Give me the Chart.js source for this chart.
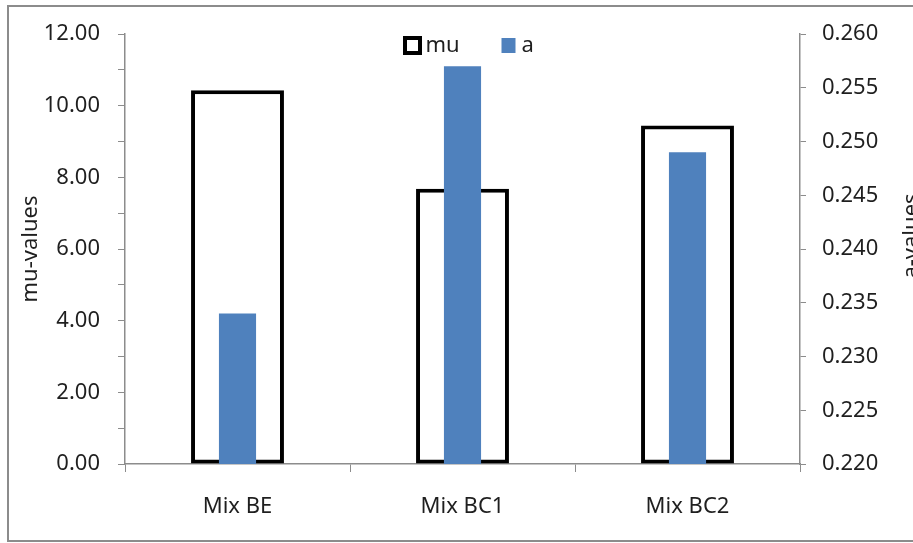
<!DOCTYPE html>
<html>
<head>
<meta charset="utf-8">
<script src="https://cdn.jsdelivr.net/npm/chart.js@4.4.0/dist/chart.umd.min.js"></script>
<style>
    html, body { margin: 0; padding: 0; background: #fff; }
    #wrap { position: absolute; left: 0; top: 0; width: 913px; height: 543px; }
</style>
</head>
<body>
<div id="wrap"><canvas id="myChart" width="913" height="543"></canvas></div>
<script>
// mix names and the two measured parameters
var mixes = ['Mix BE', 'Mix BC1', 'Mix BC2'];
var muValues = [10.43, 7.68, 9.45];
var aValues = [0.234, 0.257, 0.249];

var muTicks = [0, 2, 4, 6, 8, 10, 12];
var aTicks = [0.220, 0.225, 0.230, 0.235, 0.240, 0.245, 0.250, 0.255, 0.260];

var textColor = '#1f1f1f';
var axisColor = '#8c8c8c';
var fontFamily = '"Noto Sans", "Open Sans", sans-serif';

// frame round the whole chart, plus the legend and right-hand title
var framePlugin = {
    id: 'frame',
    beforeDraw: function (chart) {
        var ctx = chart.ctx;
        ctx.save();
        ctx.fillStyle = '#fff';
        ctx.fillRect(0, 0, chart.width, chart.height);
        ctx.strokeStyle = '#8c8c8c';
        ctx.lineWidth = 2;
        ctx.strokeRect(8, 6, chart.width, chart.height - 8);
        ctx.restore();
    },
    afterDraw: function (chart) {
        var ctx = chart.ctx;
        var area = chart.chartArea;
        var cx = (area.left + area.right) / 2;
        ctx.save();
        ctx.font = '22px ' + fontFamily;
        ctx.textBaseline = 'middle';
        ctx.fillStyle = textColor;

        // legend: mu (outlined box) then a (filled box)
        var ly = 46;
        var muDs = chart.data.datasets[1];
        var aDs = chart.data.datasets[0];
        ctx.strokeStyle = muDs.borderColor;
        ctx.lineWidth = 4;
        ctx.strokeRect(cx - 57.5, ly - 8, 15, 15);
        ctx.fillText(muDs.label, cx - 37, ly);
        ctx.fillStyle = aDs.backgroundColor;
        ctx.fillRect(cx + 39, ly - 8, 14, 15);
        ctx.fillStyle = textColor;
        ctx.fillText(aDs.label, cx + 59, ly);

        // right axis title reads bottom to top
        ctx.translate(chart.width - 1, 236);
        ctx.rotate(-Math.PI / 2);
        ctx.textAlign = 'center';
        ctx.textBaseline = 'alphabetic';
        ctx.fillText('a-values', 0, 6);
        ctx.restore();
    }
};

var ctx = document.getElementById('myChart').getContext('2d');
var chart = new Chart(ctx, {
    type: 'bar',
    data: {
        labels: mixes,
        datasets: [{
            label: 'a',
            data: aValues,
            yAxisID: 'y1',
            backgroundColor: '#4f81bd',
            borderWidth: 0,
            grouped: false,
            categoryPercentage: 1,
            barPercentage: 0.165
        }, {
            label: 'mu',
            data: muValues,
            yAxisID: 'y',
            backgroundColor: '#ffffff',
            borderColor: '#000000',
            borderWidth: 4,
            borderSkipped: false,
            grouped: false,
            categoryPercentage: 1,
            barPercentage: 0.413
        }]
    },
    options: {
        responsive: false,
        animation: false,
        layout: { padding: { top: 34, left: 0, right: 0, bottom: 0 } },
        plugins: {
            legend: { display: false },
            tooltip: { enabled: false }
        },
        scales: {
            x: {
                offset: true,
                grid: {
                    offset: true,
                    drawOnChartArea: false,
                    color: axisColor,
                    tickLength: 8
                },
                border: { color: axisColor, width: 1.5 },
                ticks: {
                    color: textColor,
                    font: { family: fontFamily, size: 22 },
                    padding: 22,
                    maxRotation: 0
                },
                afterFit: function (scale) { scale.height = 79; }
            },
            y: {
                position: 'left',
                min: 0,
                max: 12,
                afterBuildTicks: function (scale) {
                    var list = [];
                    for (var v = 0; v <= 12; v++) list.push({ value: v });
                    scale.ticks = list;
                },
                grid: {
                    drawOnChartArea: false,
                    color: axisColor,
                    tickLength: 7
                },
                border: { color: axisColor, width: 1.5 },
                ticks: {
                    color: textColor,
                    font: { family: fontFamily, size: 22 },
                    padding: 18,
                    callback: function (v) {
                        return muTicks.indexOf(v) >= 0 ? v.toFixed(2) : '';
                    }
                },
                title: {
                    display: true,
                    text: 'mu-values',
                    color: textColor,
                    font: { family: fontFamily, size: 22 },
                    padding: { top: 18, bottom: 0 }
                },
                afterFit: function (scale) { scale.width = 125; }
            },
            y1: {
                position: 'right',
                min: 0.22,
                max: 0.26,
                afterBuildTicks: function (scale) {
                    scale.ticks = aTicks.map(function (v) { return { value: v }; });
                },
                grid: {
                    drawOnChartArea: false,
                    color: axisColor,
                    tickLength: 6
                },
                border: { color: axisColor, width: 1.5 },
                ticks: {
                    color: textColor,
                    font: { family: fontFamily, size: 22 },
                    padding: 16,
                    callback: function (v) { return v.toFixed(3); }
                },
                afterFit: function (scale) { scale.width = 113; }
            }
        }
    },
    plugins: [framePlugin]
});
</script>
</body>
</html>
